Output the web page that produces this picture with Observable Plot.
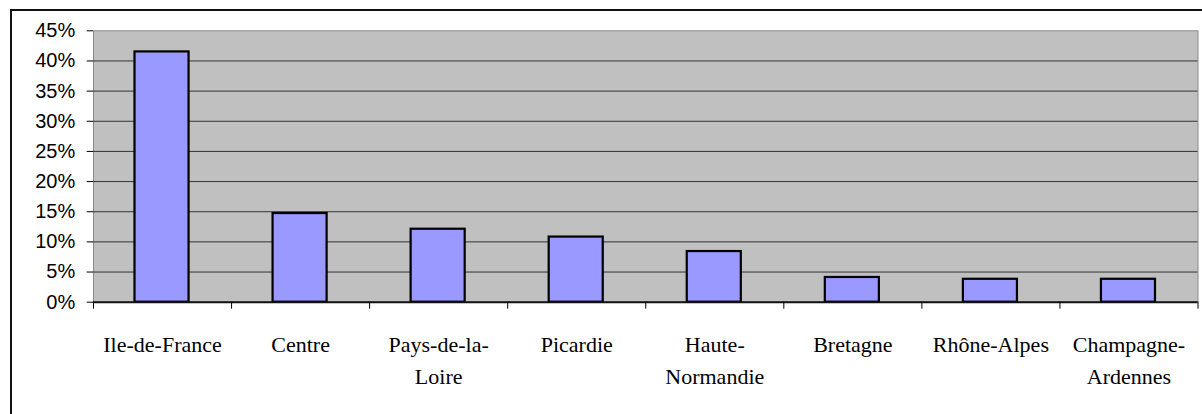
<!DOCTYPE html>
<html><head><meta charset="utf-8">
<script src="https://cdn.jsdelivr.net/npm/d3@7"></script>
<script src="https://cdn.jsdelivr.net/npm/@observablehq/plot@0.6"></script>
<style>
html,body{margin:0;padding:0;background:#fff;overflow:hidden;width:1202px;height:414px;}
#box{position:absolute;left:10px;top:9px;width:1400px;height:600px;border:2px solid #111;z-index:2;pointer-events:none;}
#chart{position:absolute;left:0;top:0;z-index:1;}
</style></head><body>
<div id="box"></div>
<div id="chart"></div>
<script>
const regions = ["Ile-de-France","Centre","Pays-de-la-Loire","Picardie","Haute-Normandie","Bretagne","Rhône-Alpes","Champagne-Ardennes"];
const regionLabels = ["Ile-de-France","Centre","Pays-de-la-\nLoire","Picardie","Haute-\nNormandie","Bretagne","Rhône-Alpes","Champagne-\nArdennes"];
const shares = [41.5, 14.7, 12.1, 10.8, 8.4, 4.1, 3.8, 3.8];
const yTicks = [0, 5, 10, 15, 20, 25, 30, 35, 40, 45];

const data = regions.map((r, i) => ({region: r, label: regionLabels[i], share: shares[i], i}));

const plot = Plot.plot({
  width: 1202, height: 414,
  marginLeft: 93, marginRight: 4.5, marginTop: 30.3, marginBottom: 112.3,
  x: {type: "linear", domain: [0, regions.length]},
  y: {domain: [0, 45]},
  marks: [
    Plot.frame({fill: "#C0C0C0", stroke: "#8a8a8a"}),
    Plot.gridY(yTicks.filter(t => t > 0 && t < 45), {stroke: "#333", strokeOpacity: 1}),
    Plot.rectY(data, {x1: "i", x2: d => d.i + 1, y: "share", fill: "#9999FF", stroke: "#000", strokeWidth: 2.2, insetLeft: 41.5, insetRight: 42.5}),
    Plot.ruleY([0], {stroke: "#111", strokeWidth: 2}),
    Plot.axisY({ticks: yTicks, tickFormat: d => d + "%", tickSize: 6.3, tickPadding: 12, fontSize: 20, fontFamily: "Liberation Sans, Arial, sans-serif", label: null}),
    Plot.axisX({ticks: d3.range(regions.length + 1), tickFormat: () => "", tickSize: 7, label: null}),
    Plot.axisX({ticks: data.map(d => d.i + 0.5), tickFormat: t => regionLabels[Math.floor(t)], tickSize: 0, tickPadding: 27.7, fontSize: 22, fontFamily: "Liberation Serif, Times New Roman, serif", lineHeight: 1.44, label: null})
  ]
});
document.getElementById("chart").appendChild(plot);
</script>
</body></html>
